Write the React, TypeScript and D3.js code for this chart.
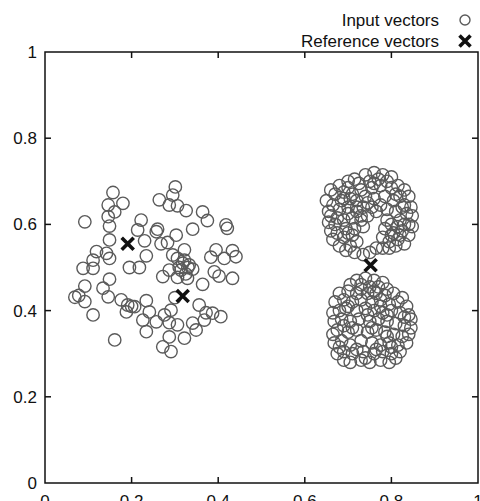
import React from "react";
import * as d3 from "d3";

const W = 480;
const H = 501;

const xTicks = [0, 0.2, 0.4, 0.6, 0.8, 1];
const yTicks = [0, 0.2, 0.4, 0.6, 0.8, 1];
const xTickLabels = ["0", "0.2", "0.4", "0.6", "0.8", "1"];
const yTickLabels = ["0", "0.2", "0.4", "0.6", "0.8", "1"];

const legendLabels = ["Input vectors", "Reference vectors"];

// Input vectors – left (diffuse) cluster
const leftCluster: [number, number][] = [
  [0.301, 0.687], [0.157, 0.674], [0.295, 0.668], [0.264, 0.657], [0.18, 0.649],
  [0.146, 0.645], [0.287, 0.645], [0.306, 0.643], [0.161, 0.629], [0.326, 0.632],
  [0.364, 0.629], [0.146, 0.618], [0.092, 0.606], [0.149, 0.596], [0.222, 0.61],
  [0.375, 0.609], [0.418, 0.599], [0.421, 0.591], [0.341, 0.589], [0.214, 0.587],
  [0.257, 0.583], [0.26, 0.589], [0.303, 0.575], [0.149, 0.564], [0.23, 0.562],
  [0.268, 0.555], [0.283, 0.558], [0.322, 0.541], [0.119, 0.537], [0.142, 0.533],
  [0.395, 0.541], [0.433, 0.539], [0.295, 0.529], [0.306, 0.521], [0.383, 0.524],
  [0.414, 0.521], [0.441, 0.525], [0.111, 0.517], [0.149, 0.521], [0.234, 0.527],
  [0.322, 0.517], [0.333, 0.506], [0.088, 0.498], [0.111, 0.498], [0.195, 0.5],
  [0.218, 0.5], [0.287, 0.494], [0.314, 0.494], [0.341, 0.496], [0.391, 0.49],
  [0.402, 0.48], [0.433, 0.475], [0.272, 0.479], [0.306, 0.477], [0.329, 0.475],
  [0.149, 0.473], [0.364, 0.461], [0.092, 0.457], [0.134, 0.452], [0.069, 0.431],
  [0.092, 0.421], [0.146, 0.432], [0.176, 0.425], [0.191, 0.413], [0.207, 0.409],
  [0.234, 0.423], [0.356, 0.413], [0.111, 0.39], [0.188, 0.397], [0.241, 0.397],
  [0.276, 0.39], [0.291, 0.401], [0.226, 0.378], [0.257, 0.374], [0.287, 0.372],
  [0.306, 0.367], [0.372, 0.395], [0.387, 0.394], [0.406, 0.386], [0.341, 0.371],
  [0.349, 0.355], [0.368, 0.378], [0.234, 0.351], [0.287, 0.339], [0.322, 0.336],
  [0.161, 0.332], [0.272, 0.316], [0.291, 0.305], [0.318, 0.51], [0.33, 0.5],
  [0.325, 0.485], [0.31, 0.5], [0.2, 0.41], [0.3, 0.43], [0.078, 0.435],
];

// Input vectors – upper right cluster
const upperCluster: [number, number][] = [
  [0.715, 0.705], [0.74, 0.715], [0.76, 0.72], [0.78, 0.715], [0.8, 0.71],
  [0.725, 0.695], [0.75, 0.7], [0.77, 0.705], [0.79, 0.7], [0.815, 0.69],
  [0.66, 0.68], [0.68, 0.69], [0.7, 0.685], [0.83, 0.68], [0.84, 0.665],
  [0.67, 0.67], [0.69, 0.675], [0.71, 0.67], [0.73, 0.68], [0.755, 0.685],
  [0.775, 0.69], [0.8, 0.685], [0.82, 0.665], [0.65, 0.655], [0.665, 0.645],
  [0.685, 0.655], [0.705, 0.66], [0.72, 0.655], [0.74, 0.665], [0.76, 0.66],
  [0.785, 0.665], [0.805, 0.655], [0.83, 0.645], [0.845, 0.64], [0.655, 0.63],
  [0.66, 0.62], [0.68, 0.635], [0.7, 0.64], [0.72, 0.63], [0.735, 0.64],
  [0.755, 0.64], [0.775, 0.645], [0.79, 0.635], [0.81, 0.63], [0.835, 0.625],
  [0.848, 0.62], [0.655, 0.605], [0.67, 0.6], [0.69, 0.61], [0.71, 0.615],
  [0.73, 0.61], [0.745, 0.62], [0.79, 0.61], [0.8, 0.6], [0.82, 0.61],
  [0.84, 0.6], [0.848, 0.595], [0.66, 0.585], [0.675, 0.58], [0.695, 0.59],
  [0.715, 0.59], [0.735, 0.595], [0.785, 0.59], [0.805, 0.58], [0.825, 0.585],
  [0.84, 0.575], [0.665, 0.565], [0.69, 0.57], [0.71, 0.575], [0.78, 0.57],
  [0.795, 0.56], [0.815, 0.565], [0.83, 0.555], [0.68, 0.55], [0.695, 0.54],
  [0.715, 0.535], [0.735, 0.53], [0.75, 0.535], [0.765, 0.545], [0.78, 0.545],
  [0.795, 0.545], [0.81, 0.55], [0.7, 0.7], [0.76, 0.695], [0.69, 0.66],
  [0.81, 0.67], [0.825, 0.64], [0.675, 0.615], [0.7, 0.625], [0.73, 0.62],
  [0.815, 0.595], [0.83, 0.6], [0.7, 0.58], [0.72, 0.56], [0.8, 0.575],
  [0.745, 0.65], [0.765, 0.63], [0.72, 0.64], [0.82, 0.575], [0.705, 0.55],
];

// Input vectors – lower right cluster
const lowerCluster: [number, number][] = [
  [0.72, 0.47], [0.74, 0.475], [0.76, 0.47], [0.78, 0.465], [0.705, 0.46],
  [0.73, 0.46], [0.75, 0.455], [0.77, 0.455], [0.79, 0.45], [0.68, 0.44],
  [0.7, 0.445], [0.72, 0.44], [0.745, 0.44], [0.765, 0.44], [0.785, 0.435],
  [0.805, 0.44], [0.825, 0.43], [0.67, 0.42], [0.69, 0.425], [0.71, 0.42],
  [0.73, 0.425], [0.755, 0.42], [0.775, 0.425], [0.795, 0.415], [0.815, 0.42],
  [0.835, 0.41], [0.665, 0.395], [0.68, 0.4], [0.695, 0.405], [0.72, 0.4],
  [0.74, 0.405], [0.76, 0.4], [0.78, 0.395], [0.8, 0.4], [0.82, 0.395],
  [0.84, 0.39], [0.845, 0.38], [0.668, 0.375], [0.685, 0.38], [0.705, 0.375],
  [0.725, 0.38], [0.75, 0.375], [0.77, 0.38], [0.79, 0.375], [0.81, 0.37],
  [0.83, 0.365], [0.845, 0.36], [0.665, 0.345], [0.675, 0.355], [0.7, 0.35],
  [0.72, 0.355], [0.745, 0.35], [0.765, 0.355], [0.785, 0.35], [0.805, 0.345],
  [0.825, 0.34], [0.84, 0.345], [0.668, 0.325], [0.685, 0.33], [0.705, 0.32],
  [0.73, 0.33], [0.755, 0.325], [0.775, 0.32], [0.795, 0.325], [0.815, 0.32],
  [0.835, 0.325], [0.675, 0.3], [0.69, 0.305], [0.71, 0.3], [0.735, 0.305],
  [0.76, 0.3], [0.78, 0.305], [0.8, 0.3], [0.82, 0.305], [0.69, 0.285],
  [0.705, 0.28], [0.73, 0.285], [0.75, 0.28], [0.775, 0.285], [0.795, 0.28],
  [0.81, 0.29], [0.73, 0.45], [0.76, 0.445], [0.7, 0.41], [0.79, 0.39],
  [0.745, 0.39], [0.71, 0.36], [0.755, 0.36], [0.79, 0.34], [0.72, 0.31],
  [0.765, 0.31], [0.8, 0.315], [0.68, 0.315], [0.74, 0.29], [0.83, 0.385],
  [0.69, 0.365], [0.775, 0.41],
];

// Reference vectors
const referenceVectors: [number, number][] = [
  [0.191, 0.555],
  [0.318, 0.434],
  [0.752, 0.505],
];

const inputVectors = [...leftCluster, ...upperCluster, ...lowerCluster];

const margin = { left: 45, right: 2, top: 52, bottom: 18 };

export default function App() {
  const x = d3.scaleLinear().domain([0, 1]).range([margin.left, W - margin.right]);
  const y = d3.scaleLinear().domain([0, 1]).range([H - margin.bottom, margin.top]);
  const font = "'Liberation Sans', Arial, Helvetica, sans-serif";
  const r = 6.2;
  const xs = 6;
  const cross = (cx: number, cy: number, s: number) =>
    `M${cx - s},${cy - s}L${cx + s},${cy + s}M${cx - s},${cy + s}L${cx + s},${cy - s}`;
  const x0 = x(0), x1 = x(1), y0 = y(0), y1 = y(1);
  return (
    <svg
      width={W}
      height={H}
      style={{ position: "absolute", left: 0, top: 0, background: "#fff" }}
      fontFamily={font}
    >
      <rect x={0} y={0} width={W} height={H} fill="#fff" />
      {/* input vectors */}
      <g fill="none" stroke="#5a5a5a" strokeWidth={1.4}>
        {inputVectors.map((d, i) => (
          <circle key={i} cx={x(d[0])} cy={y(d[1])} r={r} />
        ))}
      </g>
      {/* reference vectors */}
      <g stroke="#111" strokeWidth={3.6} fill="none">
        {referenceVectors.map((d, i) => (
          <path key={i} d={cross(x(d[0]), y(d[1]), xs)} />
        ))}
      </g>
      {/* frame */}
      <rect x={x0} y={y1} width={x1 - x0} height={y0 - y1} fill="none" stroke="#111" strokeWidth={1.5} />
      {/* ticks */}
      <g stroke="#111" strokeWidth={1.5}>
        {xTicks.slice(1, -1).map((t, i) => (
          <g key={"xt" + i}>
            <line x1={x(t)} x2={x(t)} y1={y0} y2={y0 - 6} />
            <line x1={x(t)} x2={x(t)} y1={y1} y2={y1 + 6} />
          </g>
        ))}
        {yTicks.slice(1, -1).map((t, i) => (
          <g key={"yt" + i}>
            <line x1={x0} x2={x0 + 6} y1={y(t)} y2={y(t)} />
            <line x1={x1} x2={x1 - 6} y1={y(t)} y2={y(t)} />
          </g>
        ))}
      </g>
      {/* tick labels */}
      <g fill="#111" fontSize={17}>
        {xTicks.map((t, i) => (
          <text key={"xl" + i} x={x(t)} y={y0 + 24} textAnchor="middle">
            {xTickLabels[i]}
          </text>
        ))}
        {yTicks.map((t, i) => (
          <text key={"yl" + i} x={x0 - 8} y={y(t) + 6} textAnchor="end">
            {yTickLabels[i]}
          </text>
        ))}
      </g>
      {/* legend */}
      <g fill="#111" fontSize={17}>
        <text x={439} y={26} textAnchor="end">{legendLabels[0]}</text>
        <text x={439} y={47} textAnchor="end">{legendLabels[1]}</text>
      </g>
      <circle cx={465} cy={20} r={5} fill="none" stroke="#5a5a5a" strokeWidth={1.4} />
      <path d={cross(465, 41, 5.5)} stroke="#111" strokeWidth={3.6} fill="none" />
    </svg>
  );
}
